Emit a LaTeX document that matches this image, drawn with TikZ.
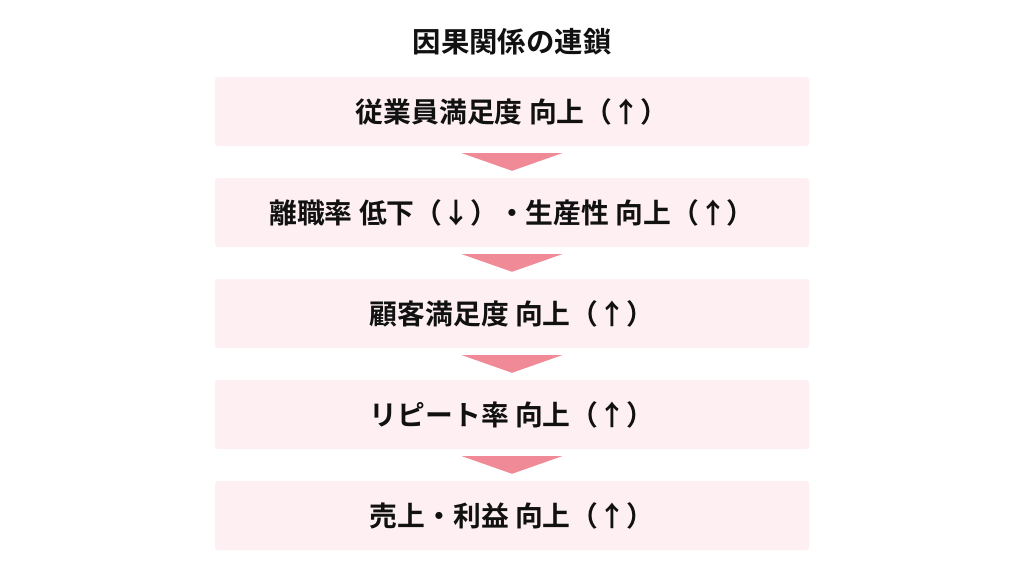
\documentclass[tikz,border=0pt]{standalone}
\usepackage{fontspec}
\setmainfont{Noto Sans CJK JP}[BoldFont={* Bold}]
\definecolor{boxfill}{HTML}{FDEFF2}
\definecolor{arrowfill}{HTML}{F08A96}
\definecolor{txt}{HTML}{111111}
\begin{document}
\begin{tikzpicture}[x=1pt,y=-1pt,
  stage/.style={fill=boxfill, rounded corners=3pt, minimum width=594pt, minimum height=69pt, inner sep=0pt,
    font=\fontsize{27.8}{30}\selectfont\bfseries, text=txt},
  titletext/.style={font=\fontsize{28.4}{32}\selectfont\bfseries, text=txt},
  flow/.style={fill=arrowfill}]
\useasboundingbox (0,0) rectangle (1024,576);
\fill[white] (0,0) rectangle (1024,576);
\node[titletext] (title) at (512,42) {因果関係の連鎖};
\node[stage] (s1) at (512,111.5) {従業員満足度 向上（↑）};
\node[stage] (s2) at (512,212.5) {離職率 低下（↓）・生産性 向上（↑）};
\node[stage] (s3) at (512,313.5) {顧客満足度 向上（↑）};
\node[stage] (s4) at (512,414.5) {リピート率 向上（↑）};
\node[stage] (s5) at (512,515.5) {売上・利益 向上（↑）};
\foreach \a/\b in {s1/s2,s2/s3,s3/s4,s4/s5}{
  \fill[flow] ([xshift=-50pt,yshift=-7pt]\a.south) -- ([xshift=50pt,yshift=-7pt]\a.south) -- ([yshift=7pt]\b.north) -- cycle;
}
\end{tikzpicture}
\end{document}
